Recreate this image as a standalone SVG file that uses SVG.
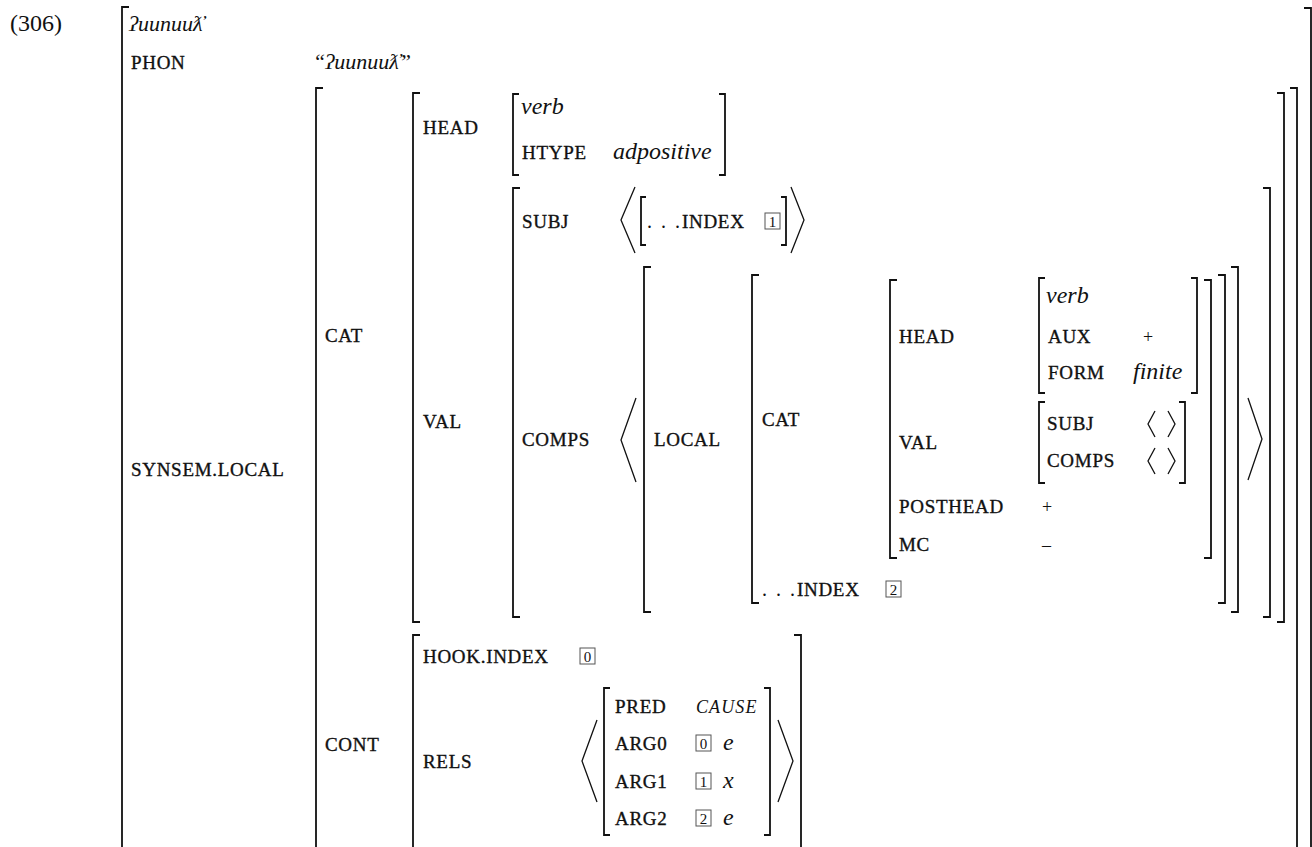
<svg xmlns="http://www.w3.org/2000/svg" width="1312" height="847" viewBox="0 0 1312 847">
<style>
.br{fill:none;stroke:#111;stroke-width:1.8}
.ang{fill:none;stroke:#111;stroke-width:1.3}
.lab{font-family:"Liberation Serif","DejaVu Serif",serif;font-size:19px;letter-spacing:0.7px;fill:#111;stroke:#111;stroke-width:0.35}
.it{font-family:"Liberation Serif","DejaVu Serif",serif;font-size:24px;font-style:italic;fill:#111}
.rm{font-family:"Liberation Serif","DejaVu Serif",serif;font-size:24px;fill:#111}
.dots{font-family:"Liberation Serif","DejaVu Serif",serif;font-size:20px;letter-spacing:2px;fill:#111;stroke:none}
.sym{font-family:"Liberation Serif","DejaVu Serif",serif;font-size:18px;fill:#111}
.box{fill:none;stroke:#555;stroke-width:1}
.num{font-family:"Liberation Serif","DejaVu Serif",serif;font-size:15px;fill:#111;text-anchor:middle}
</style>
<rect width="1312" height="847" fill="#fff"/>
<g id="example-number"><text class="rm" x="10" y="31">(306)</text></g>
<g id="connectors">
<path class="br" d="M129 7H122V860"/>
<path class="br" d="M1304 8H1311V860"/>
<path class="br" d="M323 88H316V860"/>
<path class="br" d="M1290 88H1297V860"/>
<path class="br" d="M420 93H413V622H420"/>
<path class="br" d="M1277 93H1284V622H1277"/>
<path class="br" d="M420 635H413V860"/>
<path class="br" d="M794 635H801V860"/>
<path class="br" d="M519 94H513V175H519"/>
<path class="br" d="M719 94H725V175H719"/>
<path class="br" d="M520 188H513V617H520"/>
<path class="br" d="M1263 188H1270V617H1263"/>
<path class="br" d="M646 197H641V245H646"/>
<path class="br" d="M781 197H786V245H781"/>
<path class="ang" d="M635 187L621 220L635 253"/>
<path class="ang" d="M791 187L804 220L791 253"/>
<path class="ang" d="M636 398L621 440L636 482"/>
<path class="ang" d="M1248 398L1262 439L1248 480"/>
<path class="br" d="M651 267H644V612H651"/>
<path class="br" d="M1231 267H1238V612H1231"/>
<path class="br" d="M759 275H752V603H759"/>
<path class="br" d="M1218 275H1225V603H1218"/>
<path class="br" d="M897 280H890V558H897"/>
<path class="br" d="M1204 280H1211V558H1204"/>
<path class="br" d="M1045 278H1039V393H1045"/>
<path class="br" d="M1191 278H1197V393H1191"/>
<path class="br" d="M1045 402H1039V483H1045"/>
<path class="br" d="M1179 402H1185V483H1179"/>
<path class="ang" d="M1155 411L1148 424L1155 437"/>
<path class="ang" d="M1168 411L1175 424L1168 437"/>
<path class="ang" d="M1155 448L1148 461L1155 474"/>
<path class="ang" d="M1168 448L1175 461L1168 474"/>
<path class="ang" d="M597 720L582 761L597 802"/>
<path class="ang" d="M778 720L793 761L778 802"/>
<path class="br" d="M610 688H604V835H610"/>
<path class="br" d="M764 688H770V835H764"/>
</g>
<g id="root">
<text class="it" x="129" y="31" style="font-size:22px">ʔuunuuƛ̓</text>
<text class="lab" x="131" y="69">PHON</text>
<text class="it" x="313" y="69" style="font-size:22px">“ʔuunuuƛ̓”</text>
<text class="lab" x="131" y="476">SYNSEM.LOCAL</text>
</g>
<g id="synsem-local">
<text class="lab" x="325" y="342">CAT</text>
<text class="lab" x="325" y="751">CONT</text>
</g>
<g id="cat">
<text class="lab" x="423" y="134">HEAD</text>
<text class="lab" x="423" y="428">VAL</text>
</g>
<g id="head">
<text class="it" x="521" y="114">verb</text>
<text class="lab" x="522" y="159">HTYPE</text>
<text class="it" x="613" y="159">adpositive</text>
</g>
<g id="val">
<text class="lab" x="522" y="228">SUBJ</text>
<text class="lab" x="522" y="446">COMPS</text>
</g>
<g id="subj-element">
<text class="lab" x="647" y="228"><tspan class="dots">. . .</tspan>INDEX</text>
<rect class="box" x="765" y="213" width="15" height="16"/>
<text class="num" x="772.5" y="226.5">1</text>
</g>
<g id="comps-element">
<text class="lab" x="654" y="446">LOCAL</text>
</g>
<g id="local">
<text class="lab" x="762" y="426">CAT</text>
<text class="lab" x="762" y="596"><tspan class="dots">. . .</tspan>INDEX</text>
<rect class="box" x="886" y="581" width="15" height="16"/>
<text class="num" x="893.5" y="594.5">2</text>
</g>
<g id="cat-inner">
<text class="lab" x="899" y="343">HEAD</text>
<text class="lab" x="899" y="449">VAL</text>
<text class="lab" x="899" y="513">POSTHEAD</text>
<text class="sym" x="1042" y="513">+</text>
<text class="lab" x="899" y="551">MC</text>
<text class="sym" x="1042" y="551">–</text>
</g>
<g id="head-inner">
<text class="it" x="1046" y="303">verb</text>
<text class="lab" x="1048" y="343">AUX</text>
<text class="sym" x="1143" y="343">+</text>
<text class="lab" x="1048" y="379">FORM</text>
<text class="it" x="1133" y="379">finite</text>
</g>
<g id="val-inner">
<text class="lab" x="1047" y="430">SUBJ</text>
<text class="lab" x="1047" y="467">COMPS</text>
</g>
<g id="cont">
<text class="lab" x="423" y="663">HOOK.INDEX</text>
<rect class="box" x="580" y="648" width="15" height="16"/>
<text class="num" x="587.5" y="661.5">0</text>
<text class="lab" x="423" y="768">RELS</text>
</g>
<g id="rels-element">
<text class="lab" x="615" y="713">PRED</text>
<text class="it" x="696" y="713" style="font-size:18px;letter-spacing:1.1px">CAUSE</text>
<text class="lab" x="615" y="750">ARG0</text>
<rect class="box" x="696" y="735" width="15" height="16"/>
<text class="num" x="703.5" y="748.5">0</text>
<text class="it" x="723" y="750">e</text>
<text class="lab" x="615" y="788">ARG1</text>
<rect class="box" x="696" y="773" width="15" height="16"/>
<text class="num" x="703.5" y="786.5">1</text>
<text class="it" x="723" y="788">x</text>
<text class="lab" x="615" y="825">ARG2</text>
<rect class="box" x="696" y="810" width="15" height="16"/>
<text class="num" x="703.5" y="823.5">2</text>
<text class="it" x="723" y="825">e</text>
</g>
</svg>
